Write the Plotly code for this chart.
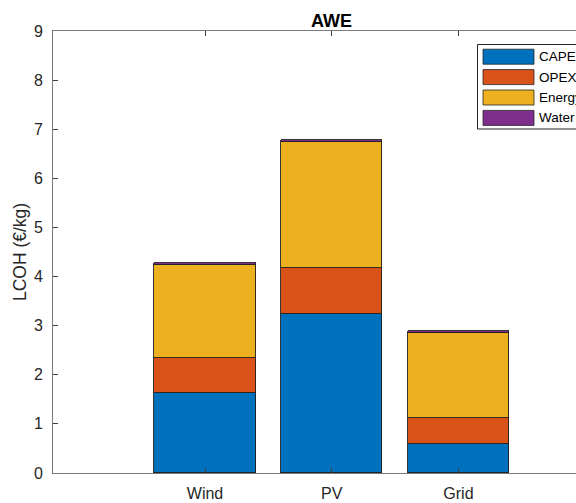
import plotly.graph_objects as go

# LCOH breakdown for alkaline water electrolysis (AWE), €/kg
categories = ["Wind", "PV", "Grid"]
capex = [1.62, 3.23, 0.59]
opex = [0.73, 0.95, 0.54]
energy = [1.88, 2.56, 1.72]
water = [0.04, 0.04, 0.04]

series_names = ["CAPEX", "OPEX", "Energy", "Water"]
series_values = [capex, opex, energy, water]
colors = ["#0072BD", "#D95319", "#EDB120", "#7E2F8E"]

y_ticks = [0, 1, 2, 3, 4, 5, 6, 7, 8, 9]

W, H = 576, 503
L, R, T, B = 53, 0, 31, 30
plot_w = W - L - R
plot_h = H - T - B

fig = go.Figure()
for name, vals, col in zip(series_names, series_values, colors):
    fig.add_trace(go.Bar(
        x=categories, y=vals, name=name, width=0.8,
        marker=dict(color=col, line=dict(color="#1e1e1e", width=0.9)),
        showlegend=False,
    ))

# Legend drawn by hand so the swatches can be wide and the box runs off the edge
def px_x(px):
    return (px - L) / plot_w

def px_y(py):
    return (H - B - py) / plot_h

shapes = [dict(type="rect", xref="paper", yref="paper",
               x0=px_x(477.5), x1=px_x(640), y0=px_y(129), y1=px_y(44.5),
               line=dict(color="#262626", width=1), fillcolor="white", layer="above")]
annotations = []
row_centers = [56.7, 77.1, 97.5, 117.9]
for name, col, cy in zip(series_names, colors, row_centers):
    shapes.append(dict(type="rect", xref="paper", yref="paper",
                       x0=px_x(483), x1=px_x(534), y0=px_y(cy + 7.5), y1=px_y(cy - 7.5),
                       line=dict(color="#262626", width=0.8), fillcolor=col, layer="above"))
    annotations.append(dict(xref="paper", yref="paper", x=px_x(536.5), y=px_y(cy),
                            text=name, showarrow=False, xanchor="left", yanchor="middle",
                            font=dict(size=13.5, color="#000000")))

annotations.append(dict(xref="paper", yref="paper", x=px_x(331.5), y=px_y(21),
                        text="<b>AWE</b>", showarrow=False, xanchor="center", yanchor="middle",
                        font=dict(size=18, color="#000000")))

fig.update_layout(
    barmode="stack",
    width=W, height=H,
    margin=dict(l=L, r=R, t=T, b=B, autoexpand=False),
    paper_bgcolor="white", plot_bgcolor="white",
    font=dict(family="Liberation Sans, Arial, sans-serif", size=16, color="#262626"),
    shapes=shapes,
    annotations=annotations,
    bargap=0,
)

fig.update_xaxes(
    type="category", categoryorder="array", categoryarray=categories,
    range=[-1.2, 2.928],
    showline=True, linecolor="#7a7a7a", linewidth=1, mirror="ticks",
    ticks="inside", ticklen=5, tickcolor="#404040", tickwidth=1,
    showgrid=False, zeroline=False, layer="above traces",
    tickfont=dict(size=16, color="#262626"), ticklabelstandoff=6,
)
fig.update_yaxes(
    range=[0, 9], tickvals=y_ticks,
    showline=True, linecolor="#7a7a7a", linewidth=1,
    ticks="inside", ticklen=5, tickcolor="#404040", tickwidth=1,
    showgrid=False, zeroline=False,
    tickfont=dict(size=16, color="#262626"), ticklabelstandoff=6,
    title=dict(text="LCOH (€/kg)", font=dict(size=17.5, color="#262626"), standoff=2),
)

fig.write_html("out.html")
